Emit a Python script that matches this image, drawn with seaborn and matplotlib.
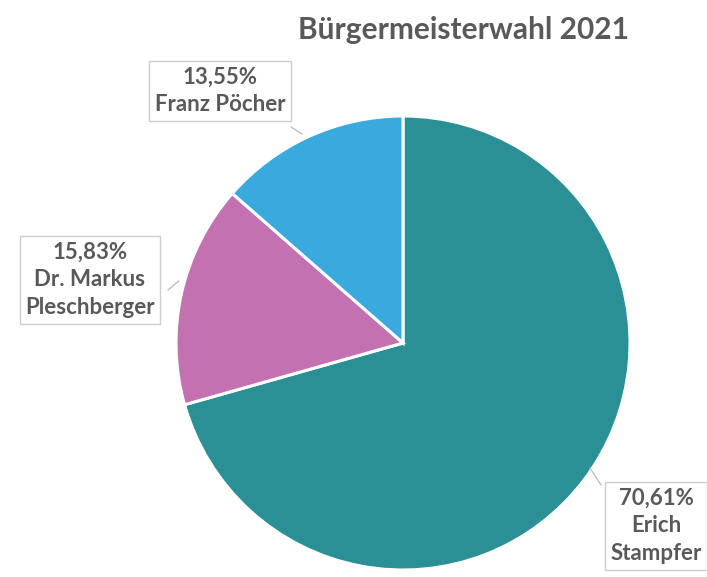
import matplotlib
matplotlib.use("Agg")
import matplotlib.pyplot as plt
import seaborn as sns

names = ["Erich\nStampfer", "Dr. Markus\nPleschberger", "Franz Pöcher"]
shares = [70.61, 15.83, 13.55]
share_labels = ["70,61%", "15,83%", "13,55%"]
colors = ["#2a9096", "#c371b1", "#3aa9de"]
title = "Bürgermeisterwahl 2021"

sns.set_theme(style="white")
plt.rcParams['font.family'] = ['Lato', 'DejaVu Sans']

W, H = 707, 577
fig = plt.figure(figsize=(W / 100, H / 100), dpi=100)
ax = fig.add_axes([0, 0, 1, 1])

def Y(y):
    return H - y

cx, cy, r = 403, 343, 227
ax.pie(shares, colors=colors, startangle=90, counterclock=False,
       center=(cx, Y(cy)), radius=r,
       wedgeprops=dict(edgecolor="white", linewidth=2.2), frame=True)
ax.set_xlim(0, W)
ax.set_ylim(0, H)
ax.set_aspect('equal')
ax.axis('off')

gray = "#595959"
ax.text(464, Y(30), title, ha="center", va="center", fontsize=21.5,
        fontweight="bold", color=gray)

label_pos = [(656, 526), (90, 280), (220, 91)]
leaders = [((601, 485), (590, 468)), ((168, 290), (179, 281)), ((291, 127), (302, 134))]
for i in range(len(shares)):
    x, y = label_pos[i]
    ax.text(x, Y(y), share_labels[i] + "\n" + names[i], ha="center", va="center",
            fontsize=16, fontweight="bold", color=gray, linespacing=1.4,
            bbox=dict(boxstyle="square,pad=0.25", facecolor="white",
                      edgecolor="#cfcfcf", linewidth=1))
    (x1, y1), (x2, y2) = leaders[i]
    ax.plot([x1, x2], [Y(y1), Y(y2)], color="#bfbfbf", linewidth=1)

fig.savefig("out.png", dpi=100)
